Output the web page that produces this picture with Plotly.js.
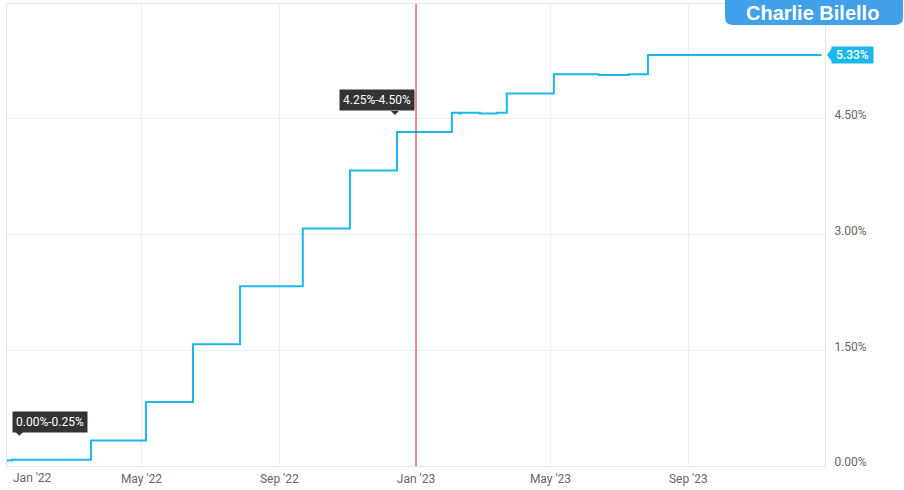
<!DOCTYPE html>
<html>
<head>
<meta charset="utf-8">
<script src="https://cdn.plot.ly/plotly-3.0.1.min.js"></script>
<style>html,body{margin:0;padding:0;background:#fff;}</style>
</head>
<body>
<div id="chart" style="width:904px;height:490px;"></div>
<script>
// Effective Fed Funds Rate (step changes), %
const dates = ['2022-01-01','2022-01-05','2022-03-17','2022-05-05','2022-06-16','2022-07-28','2022-09-22','2022-11-03','2022-12-15','2023-02-02','2023-02-09','2023-02-10','2023-02-27','2023-03-14','2023-03-23','2023-05-04','2023-06-13','2023-07-10','2023-07-27','2023-12-29'];
const values = [0.07,0.08,0.33,0.83,1.58,2.33,3.08,3.83,4.33,4.58,4.57,4.58,4.57,4.58,4.83,5.08,5.07,5.08,5.33,5.33];

const xTickDates = ['2022-01-01','2022-05-01','2022-09-01','2023-01-01','2023-05-01','2023-09-01'];
const xTickLabels = ["Jan '22","May '22","Sep '22","Jan '23","May '23","Sep '23"];
const yTickVals = [0, 1.5, 3, 4.5];
const yTickLabels = ['0.00%','1.50%','3.00%','4.50%'];

const callout1 = {text: '0.00%-0.25%', date: '2022-01-12', value: 0.08};
const callout2 = {text: '4.25%-4.50%', date: '2022-12-15', value: 4.33};
const markerDate = '2023-01-01';
const lastValue = values[values.length - 1];
const lastLabel = lastValue.toFixed(2) + '%';
const brand = 'Charlie Bilello';

const lineColor = '#1cb7ea';
const font = 'Roboto, "Open Sans", sans-serif';

const trace = {
  x: dates, y: values, type: 'scatter', mode: 'lines',
  line: {color: lineColor, width: 2, shape: 'hv'},
  hoverinfo: 'skip'
};

const layout = {
  width: 904, height: 490,
  margin: {l: 7, r: 79, t: 4, b: 24},
  paper_bgcolor: '#fff', plot_bgcolor: '#fff',
  showlegend: false,
  font: {family: font, size: 12, color: '#666'},
  xaxis: {
    type: 'date', range: ['2022-01-01', '2024-01-01'],
    tickvals: xTickDates, ticktext: ['', ...xTickLabels.slice(1)],
    showgrid: true, gridcolor: '#efefef', gridwidth: 1,
    showline: true, mirror: true, linecolor: '#e4e4e4', linewidth: 1,
    ticks: '', ticklabelstandoff: 2,
    tickfont: {family: font, size: 12, color: '#666'},
    zeroline: false, fixedrange: true
  },
  yaxis: {
    side: 'right', range: [0, 5.99],
    tickvals: yTickVals, ticktext: yTickLabels,
    showgrid: true, gridcolor: '#efefef', gridwidth: 1,
    showline: true, mirror: true, linecolor: '#e4e4e4', linewidth: 1,
    ticks: '', ticklabelstandoff: 6, ticklabelshift: -4,
    tickfont: {family: font, size: 12, color: '#666'},
    zeroline: false, fixedrange: true
  },
  shapes: [
    {type: 'line', xref: 'x', yref: 'paper', x0: markerDate, x1: markerDate, y0: 0, y1: 1,
     line: {color: '#d0262b', width: 1}},
    {type: 'path', xref: 'x', yref: 'y', xsizemode: 'pixel', ysizemode: 'pixel',
     xanchor: callout1.date, yanchor: callout1.value,
     path: 'M-4,28 L0,24 L4,28 Z', fillcolor: '#333', line: {width: 0}},
    {type: 'path', xref: 'x', yref: 'y', xsizemode: 'pixel', ysizemode: 'pixel',
     xanchor: callout2.date, yanchor: callout2.value,
     path: 'M-6,21 L-2,17 L2,21 Z', fillcolor: '#333', line: {width: 0}},
    {type: 'path', xref: 'paper', yref: 'y', xsizemode: 'pixel', ysizemode: 'pixel',
     xanchor: 1, yanchor: lastValue,
     path: 'M2,0 L8,8 L8,-8 Z', fillcolor: lineColor, line: {width: 0}},
    {type: 'path', xref: 'paper', yref: 'paper', layer: 'above',
     path: 'M0.87775,1.0303 L0.87775,0.97187 Q0.87775,0.95455 0.88753,0.95455 L1.08557,0.95455 Q1.09535,0.95455 1.09535,0.97187 L1.09535,1.0303 Z',
     fillcolor: '#40a0ea', line: {width: 0}}
  ],
  annotations: [
    {xref: 'x', yref: 'y', x: callout1.date, y: callout1.value, text: callout1.text,
     showarrow: false, xanchor: 'center', yanchor: 'bottom', xshift: 31, yshift: 27,
     bgcolor: '#333', borderpad: 3, font: {family: font, size: 12, color: '#fff'}},
    {xref: 'x', yref: 'y', x: callout2.date, y: callout2.value, text: callout2.text,
     showarrow: false, xanchor: 'center', yanchor: 'bottom', xshift: -20, yshift: 21,
     bgcolor: '#333', borderpad: 3, font: {family: font, size: 12, color: '#fff'}},
    {xref: 'paper', yref: 'y', x: 1, y: lastValue, text: '\u00a0' + lastLabel + '\u00a0',
     showarrow: false, xanchor: 'left', yanchor: 'middle', xshift: 6,
     bgcolor: lineColor, borderpad: 1, font: {family: font, size: 12, color: '#fff', weight: 500}},
    {xref: 'x', yref: 'paper', x: xTickDates[0], y: 0, text: xTickLabels[0],
     showarrow: false, xanchor: 'center', yanchor: 'top', xshift: 25, yshift: -3,
     font: {family: font, size: 12, color: '#666'}},
    {xref: 'paper', yref: 'paper', x: 0.9845, y: 0.9805, text: brand,
     showarrow: false, xanchor: 'center', yanchor: 'middle',
     font: {family: '"Liberation Sans", Arial, sans-serif', size: 20, color: '#fff', weight: 900}}
  ]
};

Plotly.newPlot('chart', [trace], layout, {displayModeBar: false, staticPlot: true});
</script>
</body>
</html>
